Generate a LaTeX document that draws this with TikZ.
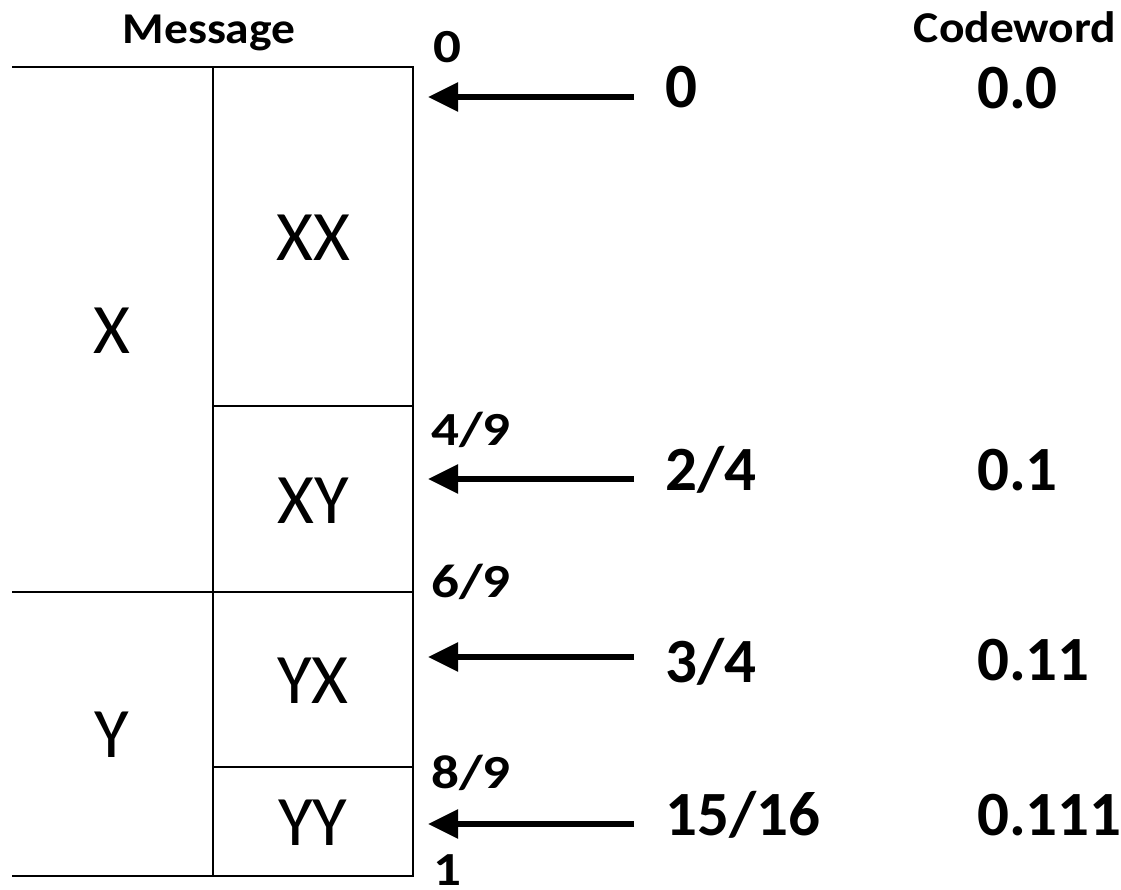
\documentclass[tikz,border=0pt]{standalone}
\usepackage{fontspec}
\usepackage{graphicx}
\setmainfont{Carlito}
\usetikzlibrary{arrows.meta}
\newcommand{\hd}[1]{\scalebox{1.08}[1]{#1}}
\newcommand{\bd}[1]{\scalebox{1.16}[1]{#1}}
\begin{document}
\begin{tikzpicture}[x=1pt,y=-1pt,
  grid/.style={line width=2pt,line cap=rect},
  head/.style={font=\bfseries\fontsize{44}{52}\selectfont,inner sep=0pt,anchor=base},
  bound/.style={font=\bfseries\fontsize{47.5}{56}\selectfont,inner sep=0pt,anchor=base west},
  val/.style={font=\bfseries\fontsize{63}{72}\selectfont,inner sep=0pt,anchor=base west},
  cell/.style={font=\fontsize{71}{80}\selectfont,inner sep=0pt,anchor=base},
  arr/.style={line width=5.5pt,-{Triangle[length=30pt,width=28pt]}}]
\useasboundingbox (0,0) rectangle (1121,889);
% grid
\draw[grid] (13,67) -- (413,67) -- (413,876) -- (13,876);
\draw[grid] (213,67) -- (213,876);
\draw[grid] (213,406) -- (413,406);
\draw[grid] (13,592) -- (413,592);
\draw[grid] (213,767) -- (413,767);
% headers
\node[head] (msg) at (209,43) {\hd{Message}};
\node[head] (cw) at (1015,42) {\hd{Codeword}};
% cells
\node[cell] (x) at (112,353) {X};
\node[cell] (y) at (112,757) {Y};
\node[cell] (xx) at (313,260) {XX};
\node[cell] (xy) at (313,523) {XY};
\node[cell] (yx) at (313,703) {YX};
\node[cell] (yy) at (313,845) {YY};
% boundaries
\node[bound] (b0) at (433,62) {\bd{0}};
\node[bound] (b49) at (431,445) {\bd{4/9}};
\node[bound] (b69) at (431,597) {\bd{6/9}};
\node[bound] (b89) at (431,788) {\bd{8/9}};
\node[bound] (b1) at (433,885) {\bd{1}};
% values
\node[val] (v0) at (665,107) {0};
\node[val] (v24) at (665,490) {2/4};
\node[val] (v34) at (665,682) {3/4};
\node[val] (v1516) at (665,835) {15/16};
% codewords
\node[val] (c0) at (977,108) {0.0};
\node[val] (c1) at (977,490) {0.1};
\node[val] (c11) at (977,680) {0.11};
\node[val] (c111) at (977,835) {0.111};
% arrows
\coordinate (t0) at (634,97);   \coordinate (h0) at (428,97);
\coordinate (t1) at (634,479);  \coordinate (h1) at (428,479);
\coordinate (t2) at (634,657);  \coordinate (h2) at (428,657);
\coordinate (t3) at (634,824);  \coordinate (h3) at (428,824);
\draw[arr] (t0) -- (h0);
\draw[arr] (t1) -- (h1);
\draw[arr] (t2) -- (h2);
\draw[arr] (t3) -- (h3);
\end{tikzpicture}
\end{document}
